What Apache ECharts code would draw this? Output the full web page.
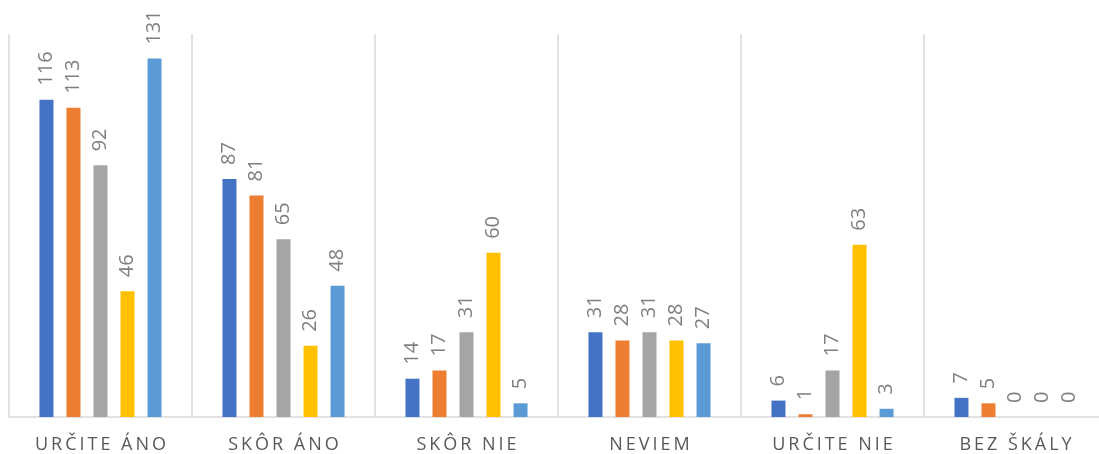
<!DOCTYPE html>
<html>
<head>
<meta charset="utf-8">
<script src="https://cdn.jsdelivr.net/npm/echarts@6/dist/echarts.min.js"></script>
<style>
  html, body { margin: 0; padding: 0; background: #fff; }
  #chart { width: 1099px; height: 454px; }
</style>
</head>
<body>
<div id="chart"></div>
<script>
var categories = ['URČITE ÁNO', 'SKÔR ÁNO', 'SKÔR NIE', 'NEVIEM', 'URČITE NIE', 'BEZ ŠKÁLY'];
var series1 = [116, 87, 14, 31, 6, 7];
var series2 = [113, 81, 17, 28, 1, 5];
var series3 = [92, 65, 31, 31, 17, 0];
var series4 = [46, 26, 60, 28, 63, 0];
var series5 = [131, 48, 5, 27, 3, 0];
var colors = ['#4472C4', '#ED7D31', '#A5A5A5', '#FFC000', '#5B9BD5'];

var myChart = echarts.init(document.getElementById('chart'));

// rozostupenie pismen v popisoch osi
function spaced(s) {
    return s.split('').join('\u2009');
}

function makeSeries(vals, i) {
    return {
        type: 'bar',
        data: vals,
        barWidth: 14,
        barGap: '93%',
        itemStyle: { color: colors[i] },
        label: {
            show: true,
            position: 'top',
            rotate: 90,
            align: 'left',
            verticalAlign: 'middle',
            distance: 14,
            color: '#808080',
            fontSize: 20,
            fontFamily: 'Open Sans'
        }
    };
}

var option = {
    backgroundColor: '#fff',
    animation: false,
    grid: {
        left: 9,
        top: 34,
        width: 1098,
        height: 383,
        outerBoundsMode: 'none',
        containLabel: false
    },
    xAxis: {
        type: 'category',
        data: categories,
        axisTick: { show: false },
        axisLine: { lineStyle: { color: '#d9d9d9', width: 1.5 } },
        splitLine: { show: true, lineStyle: { color: '#d9d9d9', width: 1.5 } },
        axisLabel: {
            margin: 19,
            color: '#595959',
            fontSize: 18,
            fontFamily: 'Open Sans',
            formatter: function (v) { return spaced(v); }
        }
    },
    yAxis: {
        type: 'value',
        min: 0,
        max: 140,
        show: false,
        splitLine: { show: false }
    },
    series: [
        makeSeries(series1, 0),
        makeSeries(series2, 1),
        makeSeries(series3, 2),
        makeSeries(series4, 3),
        makeSeries(series5, 4)
    ]
};
myChart.setOption(option);
</script>
</body>
</html>
